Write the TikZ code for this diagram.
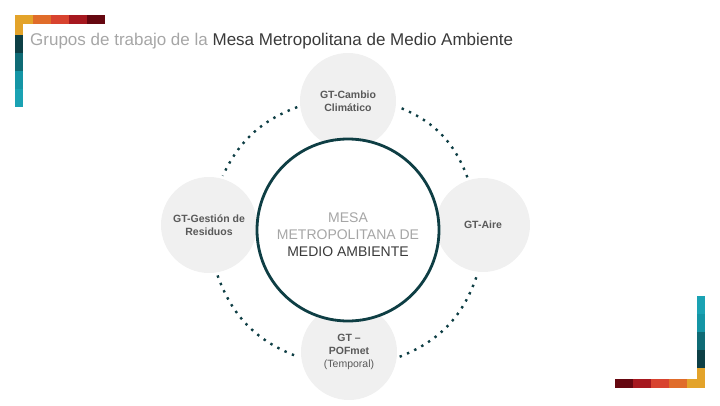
\documentclass[tikz,border=0pt]{standalone}
\usepackage{fontspec}
\setmainfont{Liberation Sans}
\setsansfont{Liberation Sans}
\usepackage{tikz}
\usetikzlibrary{positioning, shapes.geometric, calc}
\definecolor{ring}{HTML}{0E3E44}
\definecolor{bubble}{HTML}{F0F0F0}
\definecolor{txtgray}{HTML}{595959}
\definecolor{softgray}{HTML}{A6A6A6}
\definecolor{inkgray}{HTML}{3A3A3A}
\definecolor{bgold}{HTML}{E3A32A}
\definecolor{borange}{HTML}{E06C2A}
\definecolor{bred}{HTML}{D8432F}
\definecolor{bdarkred}{HTML}{A6181F}
\definecolor{bdeep}{HTML}{650710}
\definecolor{tdark}{HTML}{0D3F45}
\definecolor{tmid}{HTML}{0F6B75}
\definecolor{tlight}{HTML}{1495A5}
\definecolor{tpale}{HTML}{1AA2B3}
\tikzset{
  gt/.style={circle, fill=bubble, minimum size=96pt, inner sep=0pt,
    text=txtgray, font=\sffamily\bfseries\fontsize{10.5}{13}\selectfont, align=center},
  core/.style={circle, draw=ring, line width=2.8pt, fill=white,
    minimum size=182pt, inner sep=0pt},
  coretxt/.style={font=\sffamily\fontsize{14}{17}\selectfont, align=center, inner sep=0pt},
  dots/.style={draw=ring, line width=2.4pt, dash pattern=on 2.4pt off 5.6pt,
    shorten <=3pt, shorten >=3pt},
  ttl/.style={font=\sffamily\fontsize{17}{20}\selectfont, anchor=base west, inner sep=0pt},
}
\begin{document}
\begin{tikzpicture}[x=1pt, y=1pt]
  \useasboundingbox (0,0) rectangle (720,405);
  % corner bars, top left
  \foreach \c [count=\i from 0] in {bgold,borange,bred,bdarkred,bdeep}
    \fill[\c] (15+18*\i,381) rectangle (33+18*\i,390);
  \fill[bgold] (15,370) rectangle (22.5,390);
  \foreach \c [count=\i from 0] in {tdark,tmid,tlight,tpale}
    \fill[\c] (15,352-18*\i) rectangle (22.5,370-18*\i);
  % corner bars, bottom right
  \foreach \c [count=\i from 0] in {bdeep,bdarkred,bred,borange,bgold}
    \fill[\c] (615+18*\i,17) rectangle (633+18*\i,26);
  \fill[bgold] (697,17) rectangle (705,37);
  \foreach \c [count=\i from 0] in {tdark,tmid,tlight,tpale}
    \fill[\c] (697,37+18*\i) rectangle (705,55+18*\i);
  % title
  \node[ttl] (titulo) at (30,359) {\textcolor{softgray}{Grupos de trabajo de la}
    \textcolor{inkgray}{Mesa Metropolitana de Medio Ambiente}};
  % working groups
  \node[gt] (cambio) at (348,304) {GT-Cambio\\Climático};
  \node[gt] (residuos) at (209,180) {GT-Gestión de\\Residuos};
  \node[gt, minimum size=94pt] (aire) at (483,180) {GT-Aire};
  \node[gt] (pofmet) at (349,53) {GT –\\POFmet\\{\mdseries (Temporal)}};
  % centre
  \node[core] (mesa) at (348,175) {};
  \node[coretxt] (mesatxt) at ([yshift=-5pt]mesa.center)
    {\textcolor{softgray}{MESA}\\\textcolor{softgray}{METROPOLITANA DE}\\\textcolor{inkgray}{MEDIO AMBIENTE}};
  % dotted ring
  \draw[dots] (cambio.186) to[bend right=22] (residuos.75);
  \draw[dots] (residuos.279) to[bend right=25] (pofmet.187);
  \draw[dots] (pofmet.353) to[bend right=25] (aire.264);
  \draw[dots] (aire.108) to[bend right=24] (cambio.354);
\end{tikzpicture}
\end{document}
